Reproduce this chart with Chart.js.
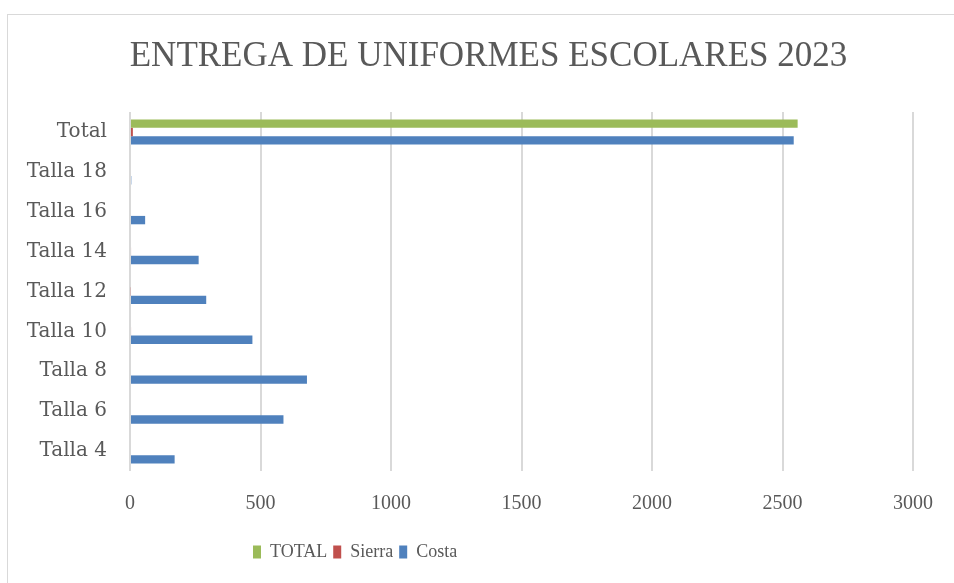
<!DOCTYPE html>
<html>
<head>
<meta charset="utf-8">
<script src="https://cdn.jsdelivr.net/npm/chart.js@4"></script>
<style>
  html, body { margin: 0; padding: 0; background: #fff; overflow: hidden; }
  #frame {
    position: absolute; left: 7px; top: 14px;
    width: 1000px; height: 620px;
    border: 1px solid #d9d9d9; box-sizing: border-box;
  }
  #wrap { position: absolute; left: 0; top: 0; width: 946px; height: 568px; }
</style>
</head>
<body>
<div id="frame"><div id="wrap"><canvas id="uniformChart"></canvas></div></div>
<script>
  'use strict';

  // Entrega de uniformes escolares 2023, por talla
  var categories = ['Total', 'Talla 18', 'Talla 16', 'Talla 14', 'Talla 12',
                    'Talla 10', 'Talla 8', 'Talla 6', 'Talla 4'];
  var totalValues = [2558, 0, 0, 0, 0, 0, 0, 0, 0];
  var sierraValues = [11, 0, 0, 4, 3, 4, 0, 0, 0];
  var costaValues = [2543, 5, 58, 263, 292, 469, 678, 588, 171];
  var xTicks = [0, 500, 1000, 1500, 2000, 2500, 3000];

  var textColor = '#595959';
  var serif = '"DejaVu Serif", serif';
  var timesLike = '"Liberation Serif", serif';

  // Excel puts the title a bit right of centre and the legend left of centre
  var shiftBoxes = {
    id: 'shiftBoxes',
    afterLayout: function (chart) {
      var t = chart.titleBlock;
      if (t) { t.left += 28; t.right += 28; }
      var lg = chart.legend;
      if (lg) {
        var d = 239 - lg.left;
        lg.left += d; lg.right += d;
      }
    }
  };

  new Chart(document.getElementById('uniformChart'), {
    type: 'bar',
    data: {
      labels: categories,
      datasets: [
        { label: 'TOTAL', data: totalValues, backgroundColor: '#9bbb59' },
        { label: 'Sierra', data: sierraValues, backgroundColor: '#c0504d' },
        { label: 'Costa', data: costaValues, backgroundColor: '#4f81bd' }
      ]
    },
    plugins: [shiftBoxes],
    options: {
      indexAxis: 'y',
      responsive: true,
      maintainAspectRatio: false,
      animation: false,
      categoryPercentage: 0.63,
      barPercentage: 1.0,
      layout: { padding: { top: 0, right: 41, bottom: 12, left: 0 } },
      plugins: {
        title: {
          display: true,
          text: 'ENTREGA DE UNIFORMES ESCOLARES 2023',
          color: textColor,
          font: { family: timesLike, size: 35, weight: 'normal' },
          padding: { top: 21, bottom: 34 }
        },
        legend: {
          position: 'bottom',
          align: 'start',
          labels: {
            color: textColor,
            font: { family: timesLike, size: 18 },
            boxWidth: 8,
            boxHeight: 13,
            padding: 6
          }
        },
        tooltip: { enabled: false }
      },
      scales: {
        x: {
          min: 0,
          max: 3000,
          afterBuildTicks: function (axis) {
            axis.ticks = xTicks.map(function (v) { return { value: v }; });
          },
          afterFit: function (axis) { axis.height = 66; },
          border: { display: false },
          grid: { color: '#d9d9d9', lineWidth: 2, drawTicks: false },
          ticks: {
            color: textColor,
            padding: 21,
            maxRotation: 0,
            font: { family: timesLike, size: 20 },
            callback: function (value) { return String(value); }
          }
        },
        y: {
          afterFit: function (axis) { axis.width = 122; },
          border: { display: false },
          grid: { display: false, drawTicks: false },
          ticks: {
            color: textColor,
            padding: 23,
            font: { family: serif, size: 20 }
          }
        }
      }
    }
  });
</script>
</body>
</html>
